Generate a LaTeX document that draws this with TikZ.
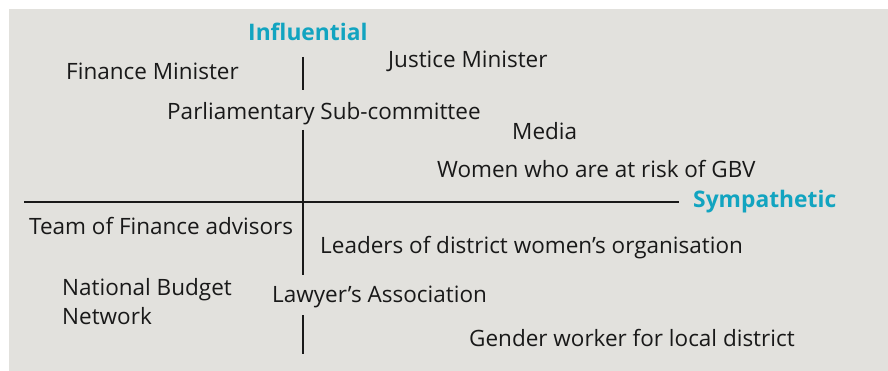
\documentclass[tikz,border=0pt]{standalone}
\usepackage{fontspec}
\setmainfont{Open Sans}
\definecolor{panelgray}{RGB}{226,225,221}
\definecolor{axiscyan}{RGB}{18,164,192}
\tikzset{
	stake/.style={anchor=base west, inner sep=0pt, font=\fontsize{22.5}{26}\selectfont, text=black!90},
	axislabel/.style={anchor=base west, inner sep=0pt, font=\fontsize{22.8}{26}\selectfont\bfseries, text=axiscyan},
	axisline/.style={line width=2pt, black!90}
}
\begin{document}
\begin{tikzpicture}[x=1pt,y=-1pt]
	\useasboundingbox (0,0) rectangle (888,371);
	\fill[panelgray] (9,9) rectangle (888,371);

	% axes
	\coordinate (v1) at (303,57);
	\coordinate (v2) at (303,90);
	\coordinate (v3) at (303,130);
	\coordinate (v4) at (303,275);
	\coordinate (v5) at (303,315);
	\coordinate (v6) at (303,354);
	\coordinate (h1) at (24,202);
	\coordinate (h2) at (679,202);
	\draw[axisline] (v1) -- (v2);
	\draw[axisline] (v3) -- (v4);
	\draw[axisline] (v5) -- (v6);
	\draw[axisline] (h1) -- (h2);

	\node[axislabel] (influential) at (248,41) {Influential};
	\node[axislabel] (sympathetic) at (693,208) {Sympathetic};

	% stakeholders
	\node[stake] (finmin) at (66,80) {Finance Minister};
	\node[stake] (justmin) at (388,68) {Justice Minister};
	\node[stake] (parl) at (167,120) {Parliamentary Sub-committee};
	\node[stake] (media) at (512,140) {Media};
	\node[stake] (women) at (437,178) {Women who are at risk of GBV};
	\node[stake] (team) at (29,235) {Team of Finance advisors};
	\node[stake] (leaders) at (320,254) {Leaders of district women’s organisation};
	\node[stake] (budget) at (62,295) {National Budget};
	\node[stake] (network) at (62,324) {Network};
	\node[stake] (lawyers) at (272,302) {Lawyer’s Association};
	\node[stake] (gender) at (469,346) {Gender worker for local district};
\end{tikzpicture}
\end{document}
